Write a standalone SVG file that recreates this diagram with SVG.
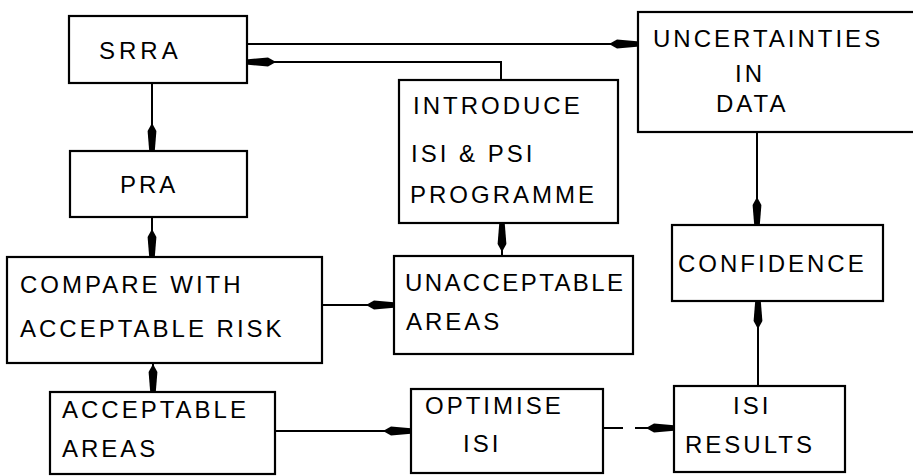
<svg xmlns="http://www.w3.org/2000/svg" width="913" height="476" viewBox="0 0 913 476">
<style>
.box{fill:#fff;stroke:#000;stroke-width:2.2}
.t{font-family:"Liberation Sans",Arial,sans-serif;font-size:24px;letter-spacing:3px;fill:#000}
.c{fill:none;stroke:#000;stroke-width:2}
</style>
<defs>
<marker id="ah" markerUnits="userSpaceOnUse" viewBox="0 0 28 10" markerWidth="28" markerHeight="10" refX="28" refY="5" orient="auto">
<path d="M0,5 L8,0.6 L28,2.2 L28,7.8 L8,9.4 Z" fill="#000"/>
</marker>
</defs>
<rect width="913" height="476" fill="#fff"/>
<g id="connectors">
<line class="c" x1="247" y1="44" x2="637" y2="44" marker-end="url(#ah)"/>
<path class="c" d="M501,80 V62 H248" marker-end="url(#ah)"/>
<line class="c" x1="152" y1="83" x2="152" y2="151" marker-end="url(#ah)"/>
<line class="c" x1="152" y1="217" x2="152" y2="257" marker-end="url(#ah)"/>
<line class="c" x1="322" y1="305" x2="394" y2="305" marker-end="url(#ah)"/>
<line class="c" x1="502" y1="256" x2="502" y2="224" marker-end="url(#ah)"/>
<line class="c" x1="153" y1="363" x2="153" y2="392" marker-end="url(#ah)"/>
<line class="c" x1="275" y1="431" x2="411" y2="431" marker-end="url(#ah)"/>
<line class="c" x1="603" y1="428" x2="674" y2="428" stroke-dasharray="20 12 60" marker-end="url(#ah)"/>
<line class="c" x1="757" y1="132" x2="757" y2="225" marker-end="url(#ah)"/>
<line class="c" x1="758" y1="386" x2="758" y2="301" marker-end="url(#ah)"/>
</g>
<g id="srra"><rect class="box" x="69" y="16" width="178" height="67"/><text class="t" x="99" y="59" style="letter-spacing:4px">SRRA</text></g>
<g id="pra"><rect class="box" x="70" y="151" width="177" height="66"/><text class="t" x="120" y="193">PRA</text></g>
<g id="introduce"><rect class="box" x="399" y="80" width="219" height="143"/>
<text class="t" x="413" y="114">INTRODUCE</text>
<text class="t" x="411" y="162">ISI &amp; PSI</text>
<text class="t" x="410" y="203">PROGRAMME</text></g>
<g id="uncertainties"><rect class="box" x="638" y="12" width="280" height="120"/>
<text class="t" x="653" y="47">UNCERTAINTIES</text>
<text class="t" x="735" y="82">IN</text>
<text class="t" x="716" y="112">DATA</text></g>
<g id="confidence"><rect class="box" x="672" y="225" width="211" height="76"/><text class="t" x="678" y="272">CONFIDENCE</text></g>
<g id="compare"><rect class="box" x="7" y="257" width="315" height="106"/>
<text class="t" x="20" y="293">COMPARE WITH</text>
<text class="t" x="20" y="337">ACCEPTABLE RISK</text></g>
<g id="unacceptable"><rect class="box" x="394" y="256" width="239" height="98"/>
<text class="t" x="405" y="291" style="letter-spacing:2.4px">UNACCEPTABLE</text>
<text class="t" x="406" y="330">AREAS</text></g>
<g id="acceptable"><rect class="box" x="50" y="392" width="225" height="82"/>
<text class="t" x="62" y="418">ACCEPTABLE</text>
<text class="t" x="62" y="457">AREAS</text></g>
<g id="optimise"><rect class="box" x="411" y="389" width="192" height="84"/>
<text class="t" x="425" y="414">OPTIMISE</text>
<text class="t" x="463" y="452">ISI</text></g>
<g id="isiresults"><rect class="box" x="674" y="386" width="171" height="86"/>
<text class="t" x="733" y="414">ISI</text>
<text class="t" x="685" y="453">RESULTS</text></g>
</svg>
